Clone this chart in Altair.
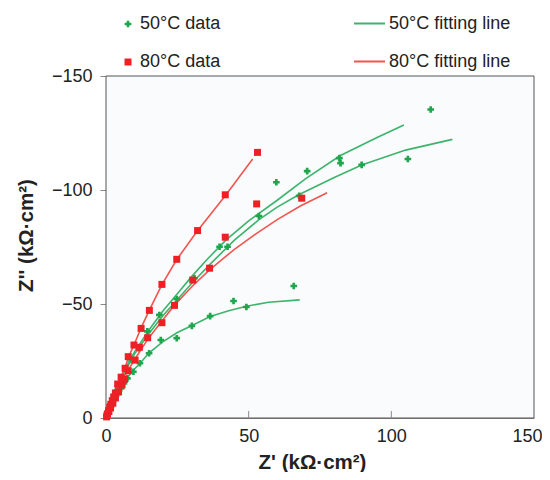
import altair as alt
import pandas as pd

# ---------------- data ----------------
x_ticks = [0, 50, 100, 150]
y_ticks = [0, -50, -100, -150]
inner_ticks = [50, 100]

series_names = ["50°C data", "80°C data"]
fit_names = ["50°C fitting line", "80°C fitting line"]

# 50°C measured points: Z' and |Z''|
g_x = [0.3, 0.8, 1.5, 2.3, 3.2, 4.2, 5.3, 6.3, 7.5, 9.6, 11.9, 15.1, 19.2, 24.8, 30.1, 36.5, 44.7, 49.2, 65.8,
       1.5, 2.8, 4.2, 5.6, 7.2, 9.0, 11.5, 14.5, 18.7, 24.8, 31.0, 39.8, 42.6, 53.6, 59.7, 67.7, 70.5, 81.8, 82.2,
       89.6, 105.8, 113.8]
g_y = [1.0, 2.5, 4.3, 6.3, 8.3, 10.5, 13.0, 15.2, 17.4, 20.3, 24.0, 28.4, 34.2, 35.0, 40.4, 44.7, 51.3, 48.7, 57.9,
       6.0, 10.0, 14.0, 17.5, 21.5, 25.5, 30.5, 38.0, 45.2, 52.2, 61.3, 75.1, 75.1, 88.6, 103.4, 97.4, 108.3, 114.0,
       111.8, 111.0, 113.6, 135.3]

# 80°C measured points
r_x = [0.2, 0.5, 0.9, 1.3, 1.7, 2.2, 2.7, 3.3, 4.1, 5.3, 6.7, 7.8, 9.8, 12.3, 15.2, 19.6, 24.8, 32.1, 41.8, 53.1,
       0.4, 1.0, 1.6, 2.4, 3.3, 4.4, 5.6, 6.5, 7.8, 10.2, 11.7, 14.6, 19.6, 24.0, 30.4, 36.3, 41.8, 52.8, 68.6]
r_y = [0.5, 1.8, 3.2, 4.6, 6.0, 7.6, 9.2, 11.0, 14.9, 17.9, 21.8, 26.9, 32.0, 39.3, 47.2, 58.6, 69.6, 82.2, 97.9, 116.5,
       1.2, 2.8, 4.4, 6.5, 8.8, 11.5, 14.5, 17.0, 20.7, 25.4, 31.0, 35.2, 41.8, 49.4, 60.5, 65.7, 79.3, 93.9, 96.4]

# fitting lines (50°C: three curves, 80°C: two curves)
g1_x = [0, 1, 3, 6, 10, 15, 20, 25, 30, 35, 42, 50, 60, 70, 82, 95, 104.4]
g1_y = [0, 5, 12, 20, 29, 38.5, 47, 54.5, 62, 69, 78, 86.5, 95.5, 105, 115, 123, 128.5]
g2_x = [0, 1, 3, 6, 10, 15, 20, 25, 30, 36.5, 45, 53.6, 60, 67.7, 80, 89.6, 105, 121.4]
g2_y = [0, 5, 11.5, 19, 28, 37, 45, 52, 59, 67.5, 78, 87, 92.5, 98, 105.5, 111, 117.5, 122.2]
g3_x = [0, 1, 2.5, 4, 6, 8, 10, 12, 15, 20, 25, 30, 36.5, 43, 49.2, 57, 67.9]
g3_y = [0, 4.5, 9, 12.5, 15.5, 18.5, 21.5, 24, 28.5, 33.5, 37.5, 40.5, 44.5, 47, 49, 50.8, 51.8]
r1_x = [0, 1, 2, 3, 4, 5, 6.7, 7.8, 9.8, 12.3, 15.2, 19.6, 24.8, 32, 41.8, 51.4]
r1_y = [0, 4.5, 8, 11, 14.5, 17.5, 22, 26.5, 32, 39.5, 47.3, 58.5, 69.5, 82, 97.5, 113.6]
r2_x = [0, 1, 3, 5, 7.8, 10.2, 14.6, 19.6, 24, 30.4, 36.3, 45, 52.8, 60, 68.1, 77.5]
r2_y = [0, 4, 10, 15.5, 21, 26, 34.5, 42.5, 49.5, 58, 65, 74, 81, 87, 93, 98.8]

# ---------------- tables ----------------
pts = pd.DataFrame({
    "x": g_x + r_x,
    "y": [-v for v in g_y] + [-v for v in r_y],
    "series": [series_names[0]] * len(g_x) + [series_names[1]] * len(r_x),
})

rows = []
for cid, (xs, ys, fit) in enumerate([(g1_x, g1_y, fit_names[0]), (g2_x, g2_y, fit_names[0]),
                                     (g3_x, g3_y, fit_names[0]), (r1_x, r1_y, fit_names[1]),
                                     (r2_x, r2_y, fit_names[1])]):
    for i, (a, b) in enumerate(zip(xs, ys)):
        rows.append({"x": a, "y": -b, "fit": fit, "curve": cid, "i": i})
lns = pd.DataFrame(rows)
tk = pd.DataFrame({"t": inner_ticks})

# ---------------- styling ----------------
GREEN_PT = "#1ea64c"
RED_PT = "#ee2026"
GREEN_LN = "#3cb46c"
RED_LN = "#f2554f"
FONT = "Liberation Sans"
W, H = 428, 342

x_scale = alt.Scale(domain=[0, 150], nice=False, zero=False)
y_scale = alt.Scale(domain=[0, -150], nice=False, zero=False)

x_axis = alt.Axis(values=x_ticks, title="Z' (kΩ·cm²)", grid=False, tickSize=0, labelPadding=9,
                  labelFlush=False, labelOverlap=False,
                  labelOffset={"condition": {"test": "datum.value == 150", "value": -7}, "value": 0},
                  labelFontSize=18, labelFont=FONT, labelColor="#222222", domainColor="#8a8a8a",
                  titleFont=FONT, titleFontSize=20.5, titleFontWeight="bold", titleColor="#222222",
                  titleX=206, titleY=50, titleAnchor="start", titleAlign="center", titleBaseline="alphabetic")
y_axis = alt.Axis(values=y_ticks, title="Z'' (kΩ·cm²)", grid=False, tickSize=6, tickColor="#8a8a8a",
                  labelFlush=False, labelOverlap=False,
                  labelPadding=8, labelFontSize=18, labelFont=FONT, labelColor="#222222", domainColor="#8a8a8a",
                  titleFont=FONT, titleFontSize=20.5, titleFontWeight="bold", titleColor="#222222",
                  titleAngle=270, titleX=-74, titleY=159, titleAlign="center", titleBaseline="alphabetic")

leg_pts = alt.Legend(orient="none", legendX=13, legendY=-61, title=None, direction="vertical",
                     labelFontSize=18, labelFont=FONT, labelColor="#222222", labelOffset=3,
                     symbolSize=36, rowPadding=20, padding=0, labelLimit=300)
leg_lns = alt.Legend(orient="none", legendX=247, legendY=-69, title=None, direction="vertical",
                     labelFontSize=18, labelFont=FONT, labelColor="#222222", labelOffset=3,
                     symbolType="stroke", symbolSize=961, symbolStrokeWidth=2, rowPadding=12,
                     padding=0, labelLimit=300)

# plot-area frame (background panel with a thin border)
frame = alt.Chart(pd.DataFrame({"f": [0]})).mark_rect(
    fill="#fafbfd", stroke="#555555", strokeWidth=1
).encode(x=alt.value(0), x2=alt.value(W), y=alt.value(0), y2=alt.value(H))

lines = alt.Chart(lns).mark_line(strokeWidth=1.6).encode(
    x=alt.X("x:Q", scale=x_scale, axis=x_axis),
    y=alt.Y("y:Q", scale=y_scale, axis=y_axis),
    color=alt.Color("fit:N", scale=alt.Scale(domain=fit_names, range=[GREEN_LN, RED_LN]), legend=leg_lns),
    detail="curve:N",
    order="i:Q",
)

points = alt.Chart(pts).mark_point(filled=True, opacity=1).encode(
    x=alt.X("x:Q", scale=x_scale, axis=x_axis),
    y=alt.Y("y:Q", scale=y_scale, axis=y_axis),
    color=alt.Color("series:N", scale=alt.Scale(domain=series_names, range=[GREEN_PT, RED_PT]), legend=leg_pts),
    shape=alt.Shape("series:N", scale=alt.Scale(domain=series_names, range=["cross", "square"]), legend=leg_pts),
    size=alt.Size("series:N", scale=alt.Scale(domain=series_names, range=[44, 49]), legend=None),
)

ticks = alt.Chart(tk).mark_rule(color="#8a8a8a").encode(
    x=alt.X("t:Q", scale=x_scale, axis=x_axis),
    y=alt.value(H),
    y2=alt.value(H - 7),
)

chart = alt.layer(frame, lines, points, ticks).resolve_scale(
    color="independent", shape="independent", size="independent"
).properties(
    width=W, height=H,
    autosize=alt.AutoSizeParams(type="none"),
    padding={"left": 98, "top": 68, "right": 8, "bottom": 54},
    background="white",
).configure_view(stroke=None)

chart.save("out.html", embed_options={"renderer": "svg", "actions": False})
